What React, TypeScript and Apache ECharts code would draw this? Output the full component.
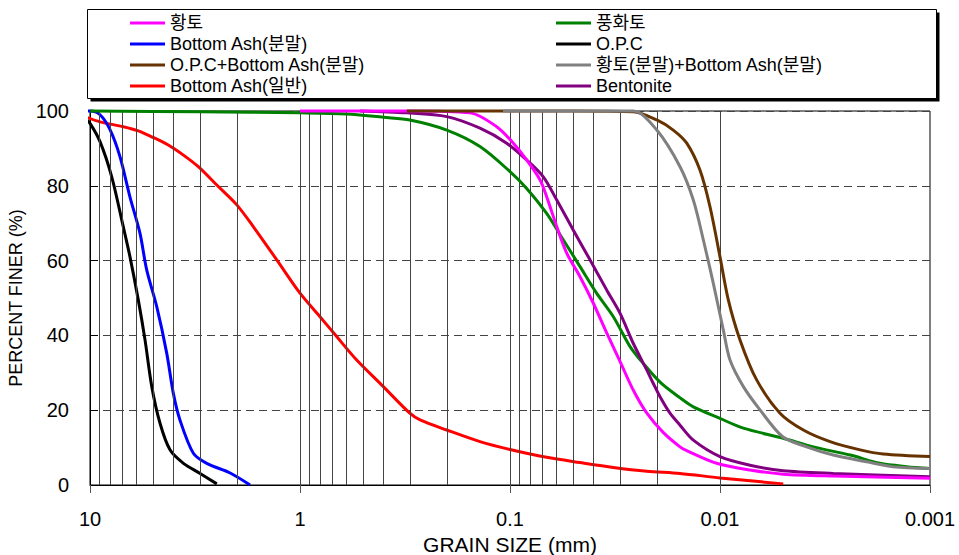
import React, { useEffect, useRef } from "react";
import * as echarts from "echarts";

// Grain size (mm) vs percent finer (%)
const hwangto: [number, number][] = [
  [1, 100], [0.3, 100], [0.155, 99.5], [0.1157, 95.8], [0.0964, 91.4], [0.0833, 86.9],
  [0.072, 81.6], [0.0669, 77.1], [0.0599, 69.1], [0.0537, 62], [0.0464, 55.7], [0.0401, 48.6],
  [0.0346, 40.6], [0.0299, 33], [0.0259, 25.4], [0.0223, 19.2], [0.0186, 14], [0.0155, 10.2],
  [0.0144, 9.2], [0.01037, 5.8], [0.0072, 4.0], [0.005, 2.9], [0.00289, 2.4], [0.001, 1.8],
];
const punghwato: [number, number][] = [
  [10, 100], [3, 99.8], [1, 99.5], [0.6, 99.2], [0.4, 98.3], [0.3, 97.6], [0.2, 94.9],
  [0.139, 90.5], [0.1, 83.8], [0.0833, 79.3], [0.0669, 72.6], [0.0557, 65.5], [0.0464, 58.4],
  [0.0387, 51.3], [0.0322, 45], [0.0268, 37], [0.0232, 32.5], [0.0193, 27.5], [0.0155, 23.3],
  [0.0134, 20.9], [0.01, 17.8], [0.00774, 15.2], [0.005, 12.5], [0.00359, 10.2], [0.0024, 8.0],
  [0.00173, 5.8], [0.00129, 4.9], [0.001, 4.4],
];
const bottomAshPowder: [number, number][] = [
  [10.56, 100], [10, 100], [8.96, 99], [8.03, 95], [7.2, 87.8], [6.45, 77], [5.78, 67.3],
  [5.37, 57.5], [4.81, 47.7], [4.31, 35.2], [4.01, 24.5], [3.73, 17.4], [3.22, 8.5],
  [2.78, 5.8], [2.15, 3.2], [1.73, 0],
];
const opc: [number, number][] = [
  [10.56, 98], [10, 96.7], [8.96, 91.8], [7.88, 82.4], [6.94, 69], [6.45, 61], [5.89, 49.5],
  [5.47, 38.8], [5.08, 26.3], [4.64, 16.5], [4.16, 9.4], [3.59, 5.8], [2.99, 3.1], [2.49, 0.3],
];
const opcBottomAsh: [number, number][] = [
  [0.31, 100], [0.05, 100], [0.0259, 99.8], [0.02, 97.6], [0.0167, 94.9], [0.0144, 91.4],
  [0.01246, 84.2], [0.01116, 74.4], [0.01, 61], [0.00913, 49.5], [0.00803, 38.8],
  [0.00669, 28.1], [0.00518, 19.2], [0.00401, 14.7], [0.00299, 11.6], [0.00215, 9.4],
  [0.00167, 8.3], [0.001, 7.6],
];
const hwangtoBottomAsh: [number, number][] = [
  [0.108, 100], [0.0259, 100], [0.02, 94.9], [0.0155, 85.1], [0.0134, 76.2], [0.012, 65.5],
  [0.01076, 53.9], [0.00964, 41.4], [0.00896, 33.4], [0.00774, 26.3], [0.00645, 20.1],
  [0.00503, 12.9], [0.00387, 10.2], [0.00289, 8.0], [0.002, 6.2], [0.0015, 4.9], [0.001, 4.4],
];
const bottomAshGeneral: [number, number][] = [
  [10.56, 98.5], [8.96, 97.1], [6.94, 95.8], [5.89, 94.7], [5.08, 93.1], [4.24, 90.9],
  [3.59, 88.2], [3.05, 85.1], [2.49, 80.2], [2.0, 74.9], [1.67, 69.1], [1.29, 60.2],
  [1.0, 51.3], [0.803, 45], [0.669, 39.7], [0.537, 33.4], [0.401, 26.3], [0.3, 19.2],
  [0.268, 17.4], [0.2, 14.7], [0.139, 11.6], [0.1, 9.5], [0.0669, 7.4], [0.0464, 6.0],
  [0.0322, 4.7], [0.0223, 3.7], [0.0155, 3.1], [0.01, 1.9], [0.005, 0.3],
];
const bentonite: [number, number][] = [
  [0.518, 100], [0.31, 99.5], [0.2, 98.5], [0.139, 95.4], [0.1037, 91.4], [0.0833, 86.9],
  [0.0694, 82.4], [0.0599, 76.2], [0.05, 68.2], [0.0416, 60.2], [0.0346, 52.1],
  [0.0299, 45.9], [0.0259, 37.9], [0.0223, 30.7], [0.0208, 27.2], [0.0193, 23.6],
  [0.0173, 19.2], [0.0155, 16], [0.0134, 12], [0.01, 7.6], [0.0072, 5.3], [0.005, 3.8],
  [0.00289, 3.1], [0.001, 2.2],
];

const legendLeft = ["황토", "Bottom Ash(분말)", "O.P.C+Bottom Ash(분말)", "Bottom Ash(일반)"];
const legendRight = ["풍화토", "O.P.C", "황토(분말)+Bottom Ash(분말)", "Bentonite"];

const xTickValues = [10, 1, 0.1, 0.01, 0.001];
const xTickLabels = ["10", "1", "0.1", "0.01", "0.001"];
const decades = [1, 0.1, 0.01, 0.001];
const minorMultipliers = [2, 3, 4, 5, 6, 7, 8, 9];
const gridXValues: number[] = [];
decades.forEach((d) => minorMultipliers.forEach((m) => gridXValues.push(+(m * d).toPrecision(3))));
[1, 0.1, 0.01].forEach((v) => gridXValues.push(v));

const SANS = "'Liberation Sans', Arial, sans-serif";
const LEGEND_FONT = "'Liberation Sans', 'Noto Sans CJK KR', sans-serif";

type S = { name: string; color: string; data: [number, number][] };
const curves: S[] = [
  { name: "Bottom Ash(일반)", color: "#ff0000", data: bottomAshGeneral },
  { name: "Bottom Ash(분말)", color: "#0000ff", data: bottomAshPowder },
  { name: "O.P.C", color: "#000000", data: opc },
  { name: "풍화토", color: "#008000", data: punghwato },
  { name: "Bentonite", color: "#800080", data: bentonite },
  { name: "황토", color: "#ff00ff", data: hwangto },
  { name: "O.P.C+Bottom Ash(분말)", color: "#663300", data: opcBottomAsh },
  { name: "황토(분말)+Bottom Ash(분말)", color: "#808080", data: hwangtoBottomAsh },
];

export default function App() {
  const ref = useRef<HTMLDivElement>(null);
  useEffect(() => {
    document.body.style.margin = "0";
    const chart = echarts.init(ref.current!, null, { renderer: "svg" });
    const legendCommon = {
      orient: "vertical" as const,
      top: 12.5,
      padding: 0,
      itemWidth: 35,
      itemHeight: 3,
      itemGap: 0,
      icon: "rect",
      textStyle: { fontFamily: LEGEND_FONT, fontSize: 18, color: "#000", lineHeight: 21 },
    };
    chart.setOption({
      animation: false,
      backgroundColor: "#fff",
      graphic: [
        { type: "rect", z: -10, shape: { x: 90.5, y: 12.5, width: 849, height: 89 }, style: { fill: "#000" } },
        { type: "rect", z: -9, shape: { x: 87.5, y: 9.5, width: 849, height: 89 }, style: { fill: "#fff", stroke: "#000", lineWidth: 1 } },
      ],
      legend: [
        { ...legendCommon, left: 130, data: legendLeft },
        { ...legendCommon, left: 556, data: legendRight },
      ],
      grid: {
        left: 90, right: 29, top: 111, bottom: 70,
        containLabel: false, outerBoundsMode: "none",
        show: true, borderColor: "#000", borderWidth: 1,
      },
      xAxis: {
        type: "log",
        logBase: 10,
        min: 0.001,
        max: 10,
        inverse: true,
        name: "GRAIN SIZE (mm)",
        nameLocation: "middle",
        nameGap: 47,
        nameTextStyle: { fontFamily: SANS, fontSize: 21, lineHeight: 21, color: "#000" },
        axisLine: { lineStyle: { color: "#000", width: 1 } },
        axisTick: { show: true, length: 8, lineStyle: { color: "#555" } },
        axisLabel: {
          margin: 24,
          fontFamily: SANS,
          fontSize: 20,
          color: "#000",
          formatter: (v: number) => {
            const i = xTickValues.findIndex((t) => Math.abs(Math.log10(t) - Math.log10(v)) < 1e-6);
            return i >= 0 ? xTickLabels[i] : "";
          },
        },
        splitLine: { show: false },
      },
      yAxis: {
        type: "value",
        min: 0,
        max: 100,
        interval: 20,
        name: "PERCENT FINER (%)",
        nameLocation: "middle",
        nameGap: 62,
        nameTextStyle: { fontFamily: SANS, fontSize: 18, color: "#000" },
        axisLine: { show: true, lineStyle: { color: "#000", width: 1 } },
        axisTick: { show: true, inside: true, length: 8, lineStyle: { color: "#000" } },
        axisLabel: { margin: 21, fontFamily: SANS, fontSize: 20, color: "#000" },
        splitLine: { show: true, lineStyle: { color: "#444", width: 1, type: [8, 5] } },
      },
      series: [
        {
          type: "line",
          name: "__grid",
          data: [],
          z: 1,
          silent: true,
          markLine: {
            silent: true,
            symbol: "none",
            label: { show: false },
            lineStyle: { color: "#444", width: 1, type: "solid" },
            data: gridXValues.map((v) => ({ xAxis: v })),
          },
        },
        ...curves.map((c, i) => ({
          type: "line",
          name: c.name,
          data: c.data,
          z: 2 + i,
          clip: false,
          showSymbol: false,
          symbol: "none",
          smooth: 0.3,
          color: c.color,
          lineStyle: { color: c.color, width: 3 },
        })),
      ],
    });
    return () => chart.dispose();
  }, []);
  return <div ref={ref} style={{ width: 959, height: 555 }} />;
}
